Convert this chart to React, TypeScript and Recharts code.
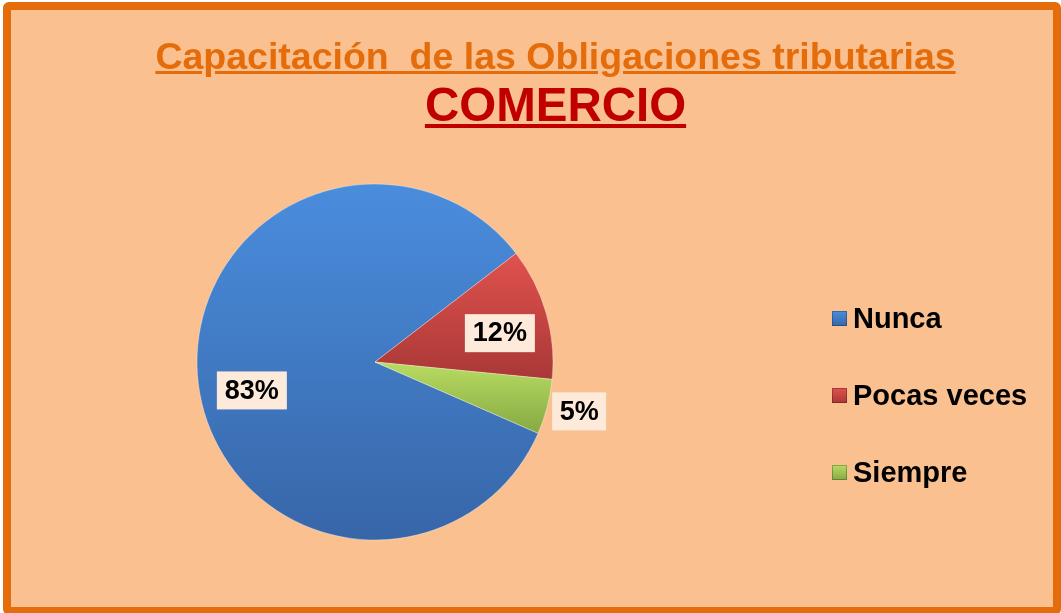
import React from 'react';
import { PieChart, Pie, Cell } from 'recharts';

const categories = ['Nunca', 'Pocas veces', 'Siempre'];
const percentages = [83, 12, 5];

const titleLine1 = 'Capacitación  de las Obligaciones tributarias';
const titleLine2 = 'COMERCIO';

// slice colours: [top, bottom] of the lighting gradient
const sliceColors = [
  ['#4a8ddd', '#3766a8'],
  ['#e0524f', '#a93836'],
  ['#b8dc62', '#86a943'],
];

// label placement tweaks (fraction of radius, angle nudge in degrees)
const labelRadius = [0.71, 0.72, 1.18];
const labelNudge = [6, -3, 1];

const chartData = categories.map((name, i) => ({ name, value: percentages[i] }));

const RADIAN = Math.PI / 180;

function renderLabel(props: any) {
  const { cx, cy, midAngle, outerRadius, index, value } = props;
  const r = outerRadius * labelRadius[index];
  const a = (midAngle + labelNudge[index]) * RADIAN;
  const x = cx + r * Math.cos(a);
  const y = cy - r * Math.sin(a);
  const text = `${value}%`;
  const w = text.length === 2 ? 54 : 70;
  const h = 38;
  return (
    <g key={`lbl-${index}`}>
      <rect x={x - w / 2} y={y - h / 2} width={w} height={h} fill="#fdeada" />
      <text
        x={x}
        y={y + 1}
        textAnchor="middle"
        dominantBaseline="middle"
        fontFamily="'Liberation Sans', Arial, sans-serif"
        fontWeight="bold"
        fontSize={27}
        fill="#000"
      >
        {text}
      </text>
    </g>
  );
}

export default function App() {
  return (
    <div
      style={{
        position: 'fixed',
        left: 0,
        top: 0,
        width: 1061,
        height: 613,
        overflow: 'hidden',
        fontFamily: "'Liberation Sans', Arial, sans-serif",
      }}
    >
      <div
        style={{
          position: 'absolute',
          left: 3,
          top: 2,
          width: 1042,
          height: 597,
          border: '8px solid #e46c0a',
          borderRadius: 6,
          background: '#fac090',
        }}
      />
      <div
        style={{
          position: 'absolute',
          left: 0,
          width: 1111,
          top: 35,
          textAlign: 'center',
          fontSize: 37.5,
          fontWeight: 'bold',
          color: '#e46c0a',
          textDecoration: 'underline',
          whiteSpace: 'pre',
          lineHeight: '42px',
        }}
      >
        {titleLine1}
      </div>
      <div
        style={{
          position: 'absolute',
          left: 0,
          width: 1111,
          top: 78,
          textAlign: 'center',
          fontSize: 47.5,
          fontWeight: 'bold',
          color: '#c00000',
          textDecoration: 'underline',
          lineHeight: '54px',
        }}
      >
        {titleLine2}
      </div>

      <div style={{ position: 'absolute', left: 0, top: 0 }}>
        <PieChart width={1061} height={613} margin={{ top: 0, right: 0, bottom: 0, left: 0 }}>
          <defs>
            {sliceColors.map((c, i) => (
              <linearGradient key={i} id={`slice-${i}`} x1="0" y1="0" x2="0" y2="1">
                <stop offset="0%" stopColor={c[0]} />
                <stop offset="100%" stopColor={c[1]} />
              </linearGradient>
            ))}
          </defs>
          <Pie
            data={chartData}
            dataKey="value"
            nameKey="name"
            cx={375}
            cy={362}
            outerRadius={178}
            startAngle={-23.6}
            endAngle={-383.6}
            stroke="rgba(255,255,255,0.35)"
            strokeWidth={1}
            label={renderLabel}
            labelLine={false}
            isAnimationActive={false}
          >
            {chartData.map((d, i) => (
              <Cell key={d.name} fill={`url(#slice-${i})`} />
            ))}
          </Pie>
        </PieChart>
      </div>

      {categories.map((name, i) => (
        <div
          key={name}
          style={{
            position: 'absolute',
            left: 832,
            top: 302 + i * 77,
            display: 'flex',
            alignItems: 'center',
            height: 32,
          }}
        >
          <div
            style={{
              width: 15,
              height: 15,
              background: `linear-gradient(${sliceColors[i][0]}, ${sliceColors[i][1]})`,
              boxShadow: 'inset 0 0 0 1px rgba(0,0,0,0.25)',
              marginRight: 6,
            }}
          />
          <span style={{ fontSize: 29, fontWeight: 'bold', color: '#000' }}>{name}</span>
        </div>
      ))}
    </div>
  );
}
